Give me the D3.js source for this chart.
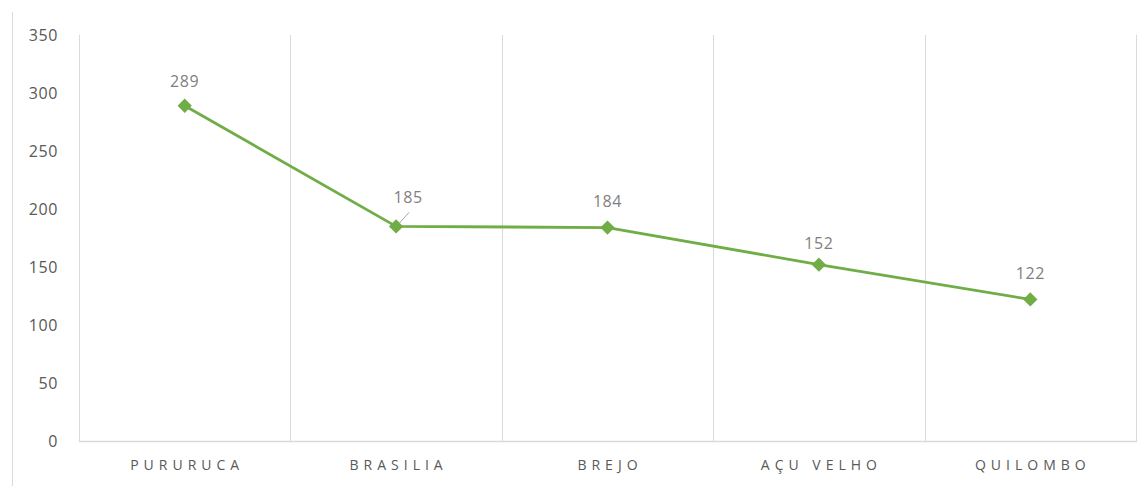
<!DOCTYPE html>
<html>
<head>
<meta charset="utf-8">
<script src="https://cdn.jsdelivr.net/npm/d3@7"></script>
<style>
  body { margin: 0; background: #fff; }
  svg { display: block; font-family: "Open Sans", "Liberation Sans", sans-serif; }
</style>
</head>
<body>
<div id="chart"></div>
<script>
// data
var categories = ["PURURUCA", "BRASILIA", "BREJO", "AÇU VELHO", "QUILOMBO"];
var values = [289, 185, 184, 152, 122];
var yTicks = [0, 50, 100, 150, 200, 250, 300, 350];

// set the dimensions and margins of the graph
var W = 1144, H = 486;
var margin = {top: 35, right: 8, bottom: 45, left: 79},
    width = W - margin.left - margin.right,
    height = H - margin.top - margin.bottom;

var x = d3.scaleBand().domain(categories).range([0, width]).padding(0);
var y = d3.scaleLinear().domain([0, 350]).range([height, 0]);

var svg = d3.select("#chart").append("svg")
    .attr("width", W)
    .attr("height", H);

// outer frame line on the left
svg.append("line")
    .attr("x1", 12.5).attr("x2", 12.5)
    .attr("y1", 12).attr("y2", H)
    .attr("stroke", "#d9d9d9").attr("stroke-width", 1);

var plot = svg.append("g")
    .attr("transform", "translate(" + margin.left + "," + margin.top + ")");

// vertical gridlines at band edges
var edges = categories.map(function(c) { return x(c); }).concat([width]);
plot.selectAll(".vgrid")
    .data(edges)
    .enter().append("line")
    .attr("class", "vgrid")
    .attr("x1", function(d) { return Math.round(d) + 0.5; })
    .attr("x2", function(d) { return Math.round(d) + 0.5; })
    .attr("y1", 0).attr("y2", height)
    .attr("stroke", "#d9d9d9").attr("stroke-width", 1);

// baseline
plot.append("line")
    .attr("x1", 0).attr("x2", width + 1)
    .attr("y1", height + 0.5).attr("y2", height + 0.5)
    .attr("stroke", "#d9d9d9").attr("stroke-width", 1.5);

// y axis labels
var yAxis = plot.append("g")
    .call(d3.axisLeft(y).tickValues(yTicks).tickSize(0).tickPadding(21));
yAxis.select(".domain").remove();
yAxis.selectAll("text")
    .attr("fill", "#595959")
    .style("font-size", "16px")
    .style("letter-spacing", "0.6px")
    .style("font-family", "\"Open Sans\", sans-serif");

// x axis labels
var xAxis = plot.append("g")
    .attr("transform", "translate(0," + height + ")")
    .call(d3.axisBottom(x).tickSize(0).tickPadding(19));
xAxis.select(".domain").remove();
xAxis.selectAll("text")
    .attr("fill", "#595959")
    .attr("dx", "2.5")
    .style("font-size", "14px")
    .style("letter-spacing", "5px")
    .style("font-family", "\"Open Sans\", sans-serif");

var pts = categories.map(function(c, i) {
    return {cat: c, value: values[i]};
});

var line = d3.line()
    .x(function(d) { return x(d.cat) + x.bandwidth() / 2; })
    .y(function(d) { return y(d.value); });

plot.append("path")
    .datum(pts)
    .attr("fill", "none")
    .attr("stroke", "#70ad47")
    .attr("stroke-width", 2.8)
    .attr("stroke-linejoin", "round")
    .attr("d", line);

plot.selectAll(".marker")
    .data(pts)
    .enter().append("path")
    .attr("class", "marker")
    .attr("d", d3.symbol().type(d3.symbolDiamond2).size(130))
    .attr("transform", function(d) {
        return "translate(" + (x(d.cat) + x.bandwidth() / 2) + "," + y(d.value) + ")";
    })
    .attr("fill", "#70ad47");

// data labels (the BRASILIA label is nudged to the right with a leader line)
var offsets = [{dx: 0, dy: -19}, {dx: 12, dy: -23}, {dx: 0, dy: -21}, {dx: 0, dy: -16}, {dx: 0, dy: -20}];

plot.append("line")
    .attr("x1", x(categories[1]) + x.bandwidth() / 2 + 3)
    .attr("y1", y(values[1]) - 3)
    .attr("x2", x(categories[1]) + x.bandwidth() / 2 + 13)
    .attr("y2", y(values[1]) - 14)
    .attr("stroke", "#a6a6a6").attr("stroke-width", 1);

plot.selectAll(".dlabel")
    .data(pts)
    .enter().append("text")
    .attr("class", "dlabel")
    .attr("x", function(d, i) { return x(d.cat) + x.bandwidth() / 2 + offsets[i].dx; })
    .attr("y", function(d, i) { return y(d.value) + offsets[i].dy; })
    .attr("text-anchor", "middle")
    .attr("fill", "#7f7f7f")
    .style("font-size", "16px")
    .style("letter-spacing", "0.6px")
    .text(function(d) { return d.value; });
</script>
</body>
</html>
